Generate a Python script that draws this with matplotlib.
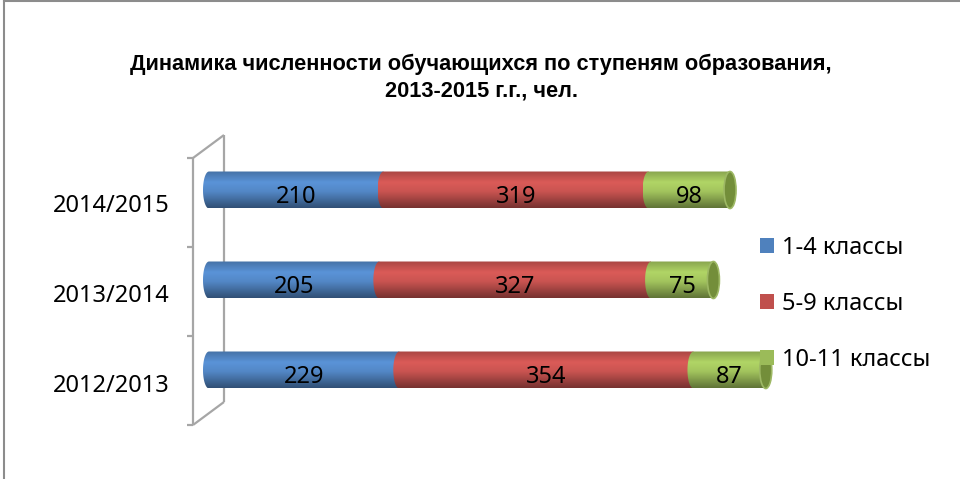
import numpy as np
import matplotlib
matplotlib.use("Agg")
import matplotlib.pyplot as plt
from matplotlib.colors import LinearSegmentedColormap, to_rgb
from matplotlib.patches import PathPatch, Ellipse, Patch
from matplotlib.path import Path
from matplotlib import transforms

# данные
years = ["2012/2013", "2013/2014", "2014/2015"]
series_names = ["1-4 классы", "5-9 классы", "10-11 классы"]
grade_1_4 = [229, 205, 210]
grade_5_9 = [354, 327, 319]
grade_10_11 = [87, 75, 98]
base_colors = ["#4F81BD", "#C0504D", "#9BBB59"]

title_1 = "Динамика численности обучающихся по ступеням образования,"
title_2 = "2013-2015 г.г., чел."

W, H = 960, 479
fig = plt.figure(figsize=(W / 100, H / 100), dpi=100)

# оси в пикселях: 0 данных на x=209, 0.831 px на единицу
px_per_unit = 0.831
ax_l, ax_r, ax_t, ax_b = 180, 800, 120, 440
ax = fig.add_axes([ax_l / W, 1 - ax_b / H, (ax_r - ax_l) / W, (ax_b - ax_t) / H])
ax.axis("off")

cap_w = 12 / px_per_unit        # ширина эллипса торца в единицах данных
bar_h = 37 / 90                 # высота цилиндра
a = cap_w / 2


def shade(c, f):
    r = np.array(to_rgb(c)) * f
    return tuple(np.clip(r, 0, 1))


def make_cmap(c):
    return LinearSegmentedColormap.from_list(
        "cyl", [(0.0, shade(c, 0.88)), (0.3, shade(c, 1.14)), (0.55, shade(c, 1.05)),
                (1.0, shade(c, 0.62))])


grad = np.linspace(0, 1, 64).reshape(-1, 1)


def segment_path(x0, x1, yc, h):
    # прямоугольник + выпуклая дуга слева
    t = np.linspace(-np.pi / 2, np.pi / 2, 40)
    arc_x = x0 - a * np.cos(t)
    arc_y = yc + (h / 2) * np.sin(t)
    xs = [x0, x1, x1] + list(arc_x)
    ys = [yc + h / 2, yc + h / 2, yc - h / 2] + list(arc_y)
    return Path(np.column_stack([xs, ys]), closed=False)


data = [grade_1_4, grade_5_9, grade_10_11]
for i, year in enumerate(years):
    left = 0
    for s, vals in enumerate(data):
        v = vals[i]
        x0, x1 = left, left + v
        p = segment_path(x0, x1, i, bar_h)
        patch = PathPatch(p, transform=ax.transData, facecolor="none", edgecolor="none")
        im = ax.imshow(grad, cmap=make_cmap(base_colors[s]), aspect="auto",
                       extent=[x0 - a, x1, i - bar_h / 2, i + bar_h / 2],
                       origin="upper", zorder=2 + s * 0.1, interpolation="bilinear")
        im.set_clip_path(patch)
        ax.text((x0 + x1) / 2, i - 7 / 90, str(v), ha="center", va="center",
                fontsize=17, family="Noto Sans", color="black", zorder=5)
        left = x1
    # торец цилиндра
    ax.add_patch(Ellipse((left, i), cap_w, bar_h, facecolor="#738E3A",
                         edgecolor="#9DB864", lw=1.2, zorder=3))

ax.set_xlim((ax_l - 209) / px_per_unit, (ax_r - 209) / px_per_unit)
ax.set_ylim(-(ax_b - 370) / 90, (370 - ax_t) / 90)

# подписи категорий
tr = transforms.blended_transform_factory(fig.transFigure, ax.transData)
for i, year in enumerate(years):
    ax.text(170 / W, i - 16 / 90, year, transform=tr, ha="right", va="center",
            fontsize=17, family="Noto Sans", clip_on=False)


# стенка (3D-ось)
def fline(xs, ys, z=1):
    ax.plot(np.array(xs) / W, 1 - np.array(ys) / H, transform=fig.transFigure,
            color="#A6A6A6", lw=1.6, clip_on=False, zorder=z, solid_capstyle="butt")


fline([224, 224], [135, 402], z=0.5)
fline([193, 224], [158, 135])
fline([193, 224], [425, 402])
fline([193, 193], [158, 425])
for ty in [158, 247, 336, 425]:
    fline([187, 193], [ty, ty])

# заголовок
fig.text(481 / W, 1 - 64 / H, title_1, ha="center", va="center", fontsize=15.7,
         fontweight="bold", family="Liberation Sans")
fig.text(481 / W, 1 - 91 / H, title_2, ha="center", va="center", fontsize=15.7,
         fontweight="bold", family="Liberation Sans")

# легенда
handles = [Patch(facecolor=c, edgecolor="none") for c in base_colors]
fig.legend(handles, series_names, loc="upper left", bbox_to_anchor=(760 / W, 1 - 236 / H),
           frameon=False, prop={"family": "Noto Sans", "size": 17},
           handlelength=0.6, handleheight=0.6, handletextpad=0.35,
           labelspacing=1.35, borderpad=0, borderaxespad=0)

# рамка
fig.add_artist(plt.Line2D([4 / W, 1], [1 - 1 / H, 1 - 1 / H], color="#8C8C8C", lw=1.5))
fig.add_artist(plt.Line2D([4 / W, 4 / W], [0, 1 - 1 / H], color="#8C8C8C", lw=1.5))

fig.savefig("out.png", dpi=100)
